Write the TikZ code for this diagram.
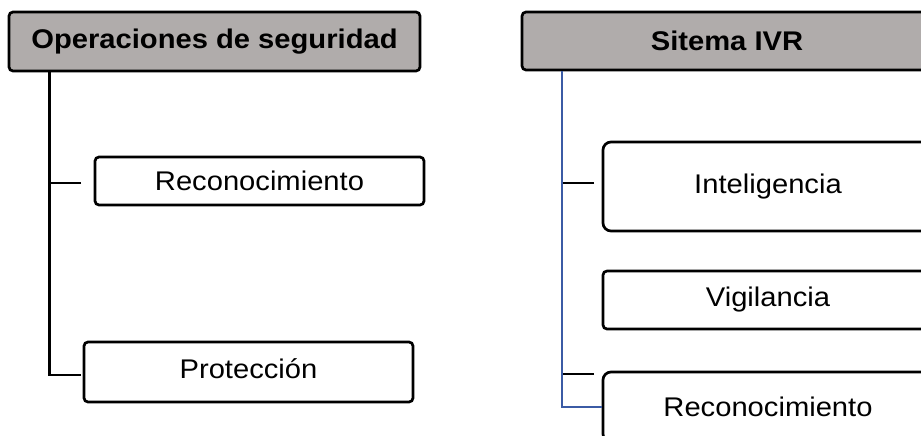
\documentclass[tikz,border=0pt]{standalone}
\usepackage{fontspec}
\setmainfont{Liberation Sans}[FakeStretch=1.08]
\usetikzlibrary{calc}
\definecolor{hdrgray}{HTML}{B0ACAB}
\definecolor{linkblue}{HTML}{3B5BA5}
\begin{document}
\begin{tikzpicture}[x=1pt,y=-1pt,
  box/.style={draw=black,line width=2.7pt,rounded corners=4pt,fill=white,
    inner sep=0pt,align=center,font=\fontsize{27}{32}\selectfont},
  hdr/.style={box,fill=hdrgray,font=\fontsize{27}{32}\selectfont\bfseries},
  conn/.style={draw=black,line width=2.7pt},
  bconn/.style={draw=linkblue,line width=2.2pt}]
\useasboundingbox (0,0) rectangle (921,436);
\clip (0,0) rectangle (921,436);
% left tree
\node[hdr,minimum width=411pt,minimum height=59pt] (hL) at (214.5,41.5) {Operaciones de seguridad};
\node[box,minimum width=329pt,minimum height=48pt] (rL1) at (259.5,181) {Reconocimiento};
\node[box,minimum width=329pt,minimum height=60pt] (pL) at (248.5,372) {\raisebox{6pt}{Protección}};
\coordinate (tL1) at (81,183);
\coordinate (tL2) at (81,375);
\draw[conn] ($(hL.south west)+(42,0)$) |- (tL2);
\draw[conn] (tL1) -- (tL1 -| 51,0);
% right tree
\node[hdr,minimum width=410pt,minimum height=58pt] (hR) at (727,41) {Sitema IVR};
\node[box,rounded corners=8pt,minimum width=330pt,minimum height=89pt] (iR) at (768,186.5) {Inteligencia};
\node[box,minimum width=330pt,minimum height=58pt] (vR) at (768,300) {Vigilancia};
\node[box,rounded corners=8pt,minimum width=330pt,minimum height=70pt] (rR) at (768,407) {Reconocimiento};
\draw[bconn] ($(hR.south west)+(41,0)$) |- (rR.west);
\coordinate (tR1) at (594,183);
\coordinate (tR2) at (594,374);
\draw[conn] (tR1) -- (tR1 -| 563,0);
\draw[conn] (tR2) -- (tR2 -| 563,0);
\end{tikzpicture}
\end{document}
